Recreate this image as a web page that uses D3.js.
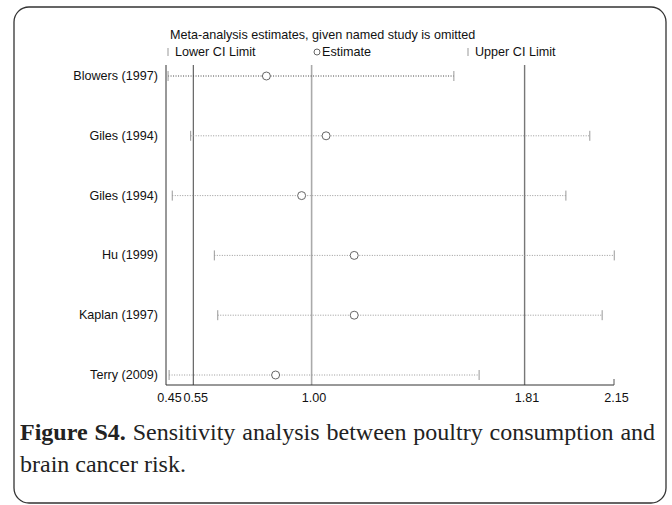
<!DOCTYPE html>
<html>
<head>
<meta charset="utf-8">
<script src="https://cdn.jsdelivr.net/npm/d3@7"></script>
<style>
  body { margin: 0; background: #fff; }
  svg { display: block; }
</style>
</head>
<body>
<svg id="chart"></svg>
<script>
// studies omitted, one row each
const studies = ['Blowers (1997)', 'Giles (1994)', 'Giles (1994) ', 'Hu (1999)', 'Kaplan (1997)', 'Terry (2009)'];
const estimate = [0.828, 1.055, 0.962, 1.162, 1.162, 0.863];
const lowerCI = [0.454, 0.540, 0.470, 0.630, 0.643, 0.458];
const upperCI = [1.541, 2.058, 1.967, 2.151, 2.105, 1.637];
const tickValues = [0.45, 0.55, 1.00, 1.81, 2.15];
const refLines = [0.55, 1.00, 1.81];

const width = 672, height = 505;
const svg = d3.select('#chart').attr('width', width).attr('height', height);
const font = '"Liberation Sans", Arial, sans-serif';

// rounded frame
svg.append('rect')
  .attr('x', 14).attr('y', 7)
  .attr('width', 652).attr('height', 496)
  .attr('rx', 15).attr('ry', 15)
  .attr('fill', 'none').attr('stroke', '#333').attr('stroke-width', 1.3);

const x = d3.scaleLinear().domain([0.45, 2.15]).range([167, 614]);
const y = d3.scalePoint().domain(studies).range([76, 375]);
const plotTop = 65, axisY = 385;

// title + legend
svg.append('text').attr('x', 170).attr('y', 39)
  .attr('font-family', font).attr('font-size', 12.6).attr('fill', '#111')
  .text('Meta-analysis estimates, given named study is omitted');

const leg = svg.append('g').attr('font-family', font).attr('font-size', 12.6).attr('fill', '#111');
leg.append('line').attr('x1', 168).attr('x2', 168).attr('y1', 48).attr('y2', 56).attr('stroke', '#999');
leg.append('text').attr('x', 175).attr('y', 56).text('Lower CI Limit');
leg.append('circle').attr('cx', 317).attr('cy', 52).attr('r', 3).attr('fill', 'none').attr('stroke', '#666');
leg.append('text').attr('x', 322).attr('y', 56).text('Estimate');
leg.append('line').attr('x1', 468).attr('x2', 468).attr('y1', 48).attr('y2', 56).attr('stroke', '#999');
leg.append('text').attr('x', 475).attr('y', 56).text('Upper CI Limit');

// reference lines
const refStyle = {0.55: ['#444', 1], 1.00: ['#aaa', 1.6], 1.81: ['#777', 1.4]};
svg.selectAll('line.ref')
  .data(refLines)
  .enter()
  .append('line')
  .attr('class', 'ref')
  .attr('x1', d => x(d)).attr('x2', d => x(d))
  .attr('y1', plotTop).attr('y2', axisY)
  .attr('stroke', d => refStyle[d][0])
  .attr('stroke-width', d => refStyle[d][1]);

// left axis line
svg.append('line').attr('x1', x(0.45) - 1).attr('x2', x(0.45) - 1)
  .attr('y1', plotTop).attr('y2', axisY).attr('stroke', '#333');

// bottom axis
const xAxis = svg.append('g')
  .attr('transform', `translate(0, ${axisY})`)
  .call(d3.axisBottom(x).tickValues(tickValues).tickFormat(d3.format('.2f')).tickSize(0).tickPadding(8));
xAxis.select('.domain').attr('stroke', '#333').attr('d', `M${x(0.45) - 1},0H${x(2.15)}`);
xAxis.selectAll('text').attr('font-family', font).attr('font-size', 12.6).attr('fill', '#111').attr('dx', 2);
svg.append('line').attr('x1', x(2.15)).attr('x2', x(2.15))
  .attr('y1', axisY - 6).attr('y2', axisY).attr('stroke', '#555');

// study labels
svg.selectAll('text.study')
  .data(studies)
  .enter()
  .append('text')
  .attr('class', 'study')
  .attr('x', 158)
  .attr('y', d => y(d) + 4)
  .attr('text-anchor', 'end')
  .attr('font-family', font).attr('font-size', 12.6).attr('fill', '#111')
  .text(d => d.trim());

// CI dotted lines
const rows = studies.map((s, i) => ({s, est: estimate[i], lo: lowerCI[i], hi: upperCI[i], i}));
svg.selectAll('line.ci')
  .data(rows)
  .enter()
  .append('line')
  .attr('x1', d => x(d.lo)).attr('x2', d => x(d.hi))
  .attr('y1', d => y(d.s)).attr('y2', d => y(d.s))
  .attr('stroke', d => d.i === 0 ? '#444' : '#999')
  .attr('stroke-width', 1)
  .attr('stroke-dasharray', '1,1.5');

// caps
svg.selectAll('line.lo')
  .data(rows)
  .enter()
  .append('line')
  .attr('x1', d => x(d.lo)).attr('x2', d => x(d.lo))
  .attr('y1', d => y(d.s) - 5).attr('y2', d => y(d.s) + 5)
  .attr('stroke', '#999');
svg.selectAll('line.hi')
  .data(rows)
  .enter()
  .append('line')
  .attr('x1', d => x(d.hi)).attr('x2', d => x(d.hi))
  .attr('y1', d => y(d.s) - 5).attr('y2', d => y(d.s) + 5)
  .attr('stroke', '#999');

// estimates
svg.selectAll('circle.est')
  .data(rows)
  .enter()
  .append('circle')
  .attr('cx', d => x(d.est))
  .attr('cy', d => y(d.s))
  .attr('r', 4)
  .attr('fill', '#fff')
  .attr('stroke', '#666');

// caption
const serif = '"Liberation Serif", "Times New Roman", serif';
const cap1 = svg.append('text').attr('x', 20).attr('y', 440)
  .attr('font-family', serif).attr('font-size', 24).attr('fill', '#222');
cap1.append('tspan').attr('font-weight', 'bold').text('Figure S4.');
cap1.append('tspan').text(' Sensitivity analysis between poultry consumption and');
// justify the first line like the printed caption
const w = cap1.node().getComputedTextLength();
const gaps = 8;
cap1.attr('word-spacing', (656 - 20 - w) / gaps);
svg.append('text').attr('x', 20).attr('y', 472)
  .attr('font-family', serif).attr('font-size', 24).attr('fill', '#222')
  .text('brain cancer risk.');
</script>
</body>
</html>
